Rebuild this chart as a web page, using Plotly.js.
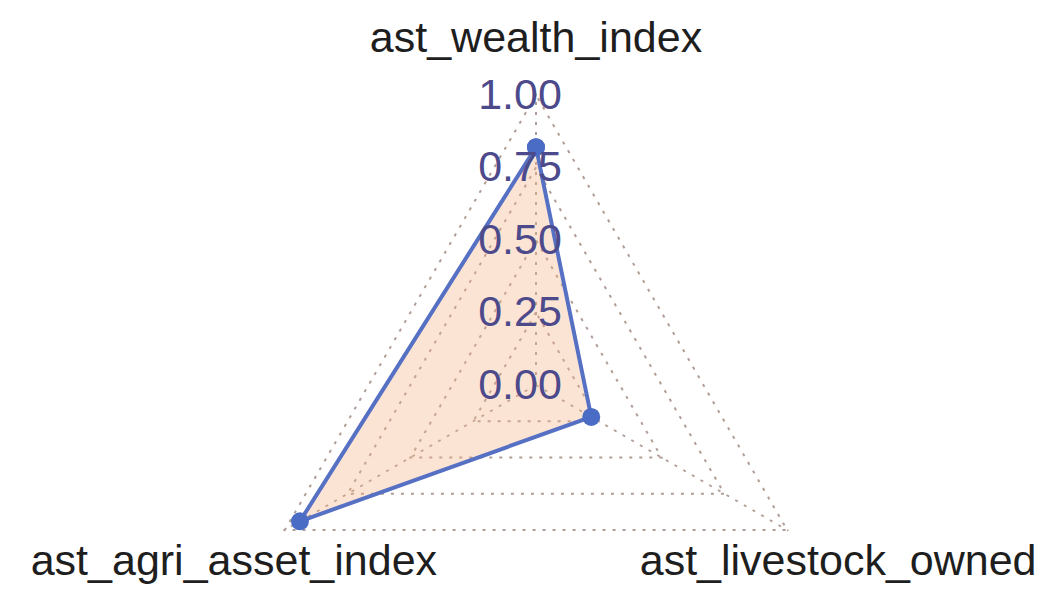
<!DOCTYPE html>
<html>
<head>
<meta charset="utf-8">
<script src="https://cdn.plot.ly/plotly-3.0.1.min.js"></script>
<style>
  html, body { margin: 0; padding: 0; overflow: hidden; background: #ffffff; }
  #chart { width: 1052px; height: 760px; }
</style>
</head>
<body>
<div id="chart"></div>
<script>
// Categories (counterclockwise from the top)
const categories = ['ast_wealth_index', 'ast_agri_asset_index', 'ast_livestock_owned'];
// Series values
const values = [0.82, 0.94, 0.22];
// Radial tick values and labels
const tickVals = [0, 0.25, 0.5, 0.75, 1];
const tickLabels = ['0.00', '0.25', '0.50', '0.75', '1.00'];

const FIG_W = 1052, FIG_H = 760;
const UNIT = 290;          // px per radial unit
const LABEL_R = 1.193;     // radius of the category labels
const FONT = 'Liberation Sans, Arial, sans-serif';

function domainFor(cx, cy, rad) {
  return {
    x: [(cx - rad) / FIG_W, (cx + rad) / FIG_W],
    y: [1 - (cy + rad) / FIG_H, 1 - (cy - rad) / FIG_H]
  };
}

const mainTrace = {
  type: 'scatterpolar',
  subplot: 'polar',
  mode: 'lines+markers',
  r: values.concat([values[0]]),
  theta: categories.concat([categories[0]]),
  fill: 'toself',
  fillcolor: 'rgba(244,177,131,0.35)',
  line: { color: '#5670c4', width: 4 },
  marker: { color: '#4a6cc4', size: 18 },
  cliponaxis: false,
  showlegend: false
};

const tickLabelTrace = {
  type: 'scatterpolar',
  subplot: 'polar2',
  mode: 'text',
  r: tickVals,
  theta: tickVals.map(() => categories[0]),
  text: tickLabels,
  textposition: 'middle center',
  textfont: { family: FONT, size: 43, color: '#4d4a8c' },
  cliponaxis: false,
  hoverinfo: 'skip',
  showlegend: false
};

const axisLabelTrace = {
  type: 'scatterpolar',
  subplot: 'polar3',
  mode: 'text',
  r: categories.map(() => LABEL_R),
  theta: categories,
  text: categories,
  textposition: 'middle center',
  textfont: { family: FONT, size: 43, color: '#1e1e1e' },
  cliponaxis: false,
  hoverinfo: 'skip',
  showlegend: false
};

const gridColor = '#b09e96';
const gridDash = '3px,7px';
const hiddenAngular = {
  type: 'category', categoryarray: categories, rotation: 90,
  direction: 'counterclockwise', visible: false
};
const overlayRange = [-0.01, 1.24];
const overlayRad = (overlayRange[1] - overlayRange[0]) * UNIT;

const layout = {
  width: FIG_W,
  height: FIG_H,
  margin: { l: 0, r: 0, t: 0, b: 0 },
  paper_bgcolor: '#ffffff',
  showlegend: false,
  polar: {
    domain: domainFor(536, 385, 1.005 * UNIT),
    bgcolor: '#ffffff',
    gridshape: 'linear',
    radialaxis: {
      range: [0, 1.005],
      angle: 90,
      tickvals: tickVals,
      showticklabels: false,
      ticks: '',
      showline: false,
      gridcolor: gridColor,
      gridwidth: 2,
      griddash: gridDash
    },
    angularaxis: {
      type: 'category',
      categoryarray: categories,
      rotation: 90,
      direction: 'counterclockwise',
      showticklabels: false,
      ticks: '',
      showline: false,
      gridcolor: gridColor,
      gridwidth: 2,
      griddash: gridDash
    }
  },
  polar2: {
    domain: domainFor(520, 391, overlayRad),
    bgcolor: 'rgba(0,0,0,0)',
    radialaxis: { range: overlayRange, visible: false },
    angularaxis: hiddenAngular
  },
  polar3: {
    domain: domainFor(536, 390, overlayRad),
    bgcolor: 'rgba(0,0,0,0)',
    radialaxis: { range: overlayRange, visible: false },
    angularaxis: hiddenAngular
  }
};

Plotly.newPlot('chart', [mainTrace, tickLabelTrace, axisLabelTrace], layout, { displayModeBar: false, staticPlot: true });
</script>
</body>
</html>
